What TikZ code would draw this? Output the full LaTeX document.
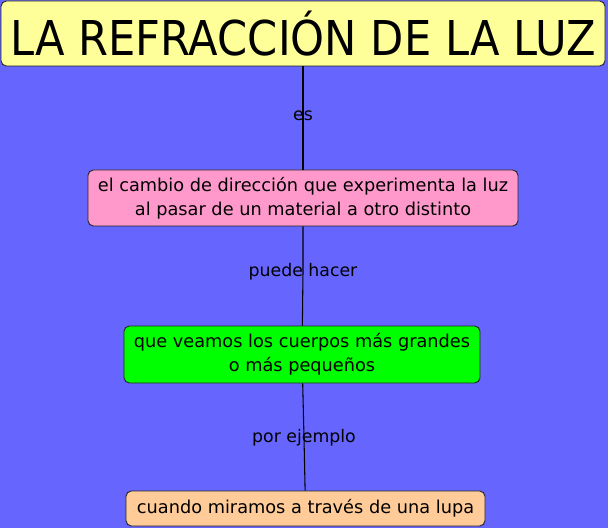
\documentclass[tikz,border=0pt]{standalone}
\usepackage{fontspec}
\setmainfont{DejaVu Sans}
\usetikzlibrary{positioning}

\definecolor{fondo}{RGB}{102,102,255}
\definecolor{amarillo}{RGB}{255,255,153}
\definecolor{rosa}{RGB}{255,153,204}
\definecolor{verde}{RGB}{0,255,0}
\definecolor{melocoton}{RGB}{255,204,153}

\begin{document}
\begin{tikzpicture}[x=0.75pt, y=-0.75pt]
    \tikzstyle{concept} = [rectangle, rounded corners=4pt, draw=black!85, line width=0.7pt, align=center, inner sep=0pt, font=\fontsize{13.3}{18}\selectfont]
    \tikzstyle{linkword} = [align=center, inner sep=1pt, font=\fontsize{13}{15}\selectfont]
    \tikzstyle{link} = [draw=black, line width=0.8pt]

    \useasboundingbox (0,0) rectangle (608,528);
    \fill [fondo] (0,0) rectangle (608,528);

    \node (luz) [concept, fill=amarillo, minimum width=453pt, minimum height=48.75pt, font=\fontsize{36}{40}\selectfont] at (303,33.5) {\scalebox{0.9}[1]{LA REFRACCIÓN DE LA LUZ}};
    \node (cambio) [concept, fill=rosa, minimum width=322.5pt, minimum height=42pt] at (303,198) {el cambio de dirección que experimenta la luz\\al pasar de un material a otro distinto};
    \node (cuerpos) [concept, fill=verde, minimum width=267pt, minimum height=42.75pt] at (302,354.5) {que veamos los cuerpos más grandes\\o más pequeños};
    \node (lupa) [concept, fill=melocoton, minimum width=269.25pt, minimum height=26.25pt] at (305.5,508.5) {cuando miramos a través de una lupa};

    \coordinate (es) at (303,116);
    \coordinate (puede) at (303,272);
    \coordinate (ejemplo) at (304,438);

    \draw [link] (luz) -- (es) -- (cambio);
    \draw [link] (cambio) -- (puede) -- (cuerpos);
    \draw [link] (cuerpos) -- (ejemplo) -- (lupa);

    \node (esl) [linkword] at (es) {es};
    \node (puedel) [linkword] at (puede) {puede hacer};
    \node (ejemplol) [linkword] at (ejemplo) {por ejemplo};
\end{tikzpicture}
\end{document}
